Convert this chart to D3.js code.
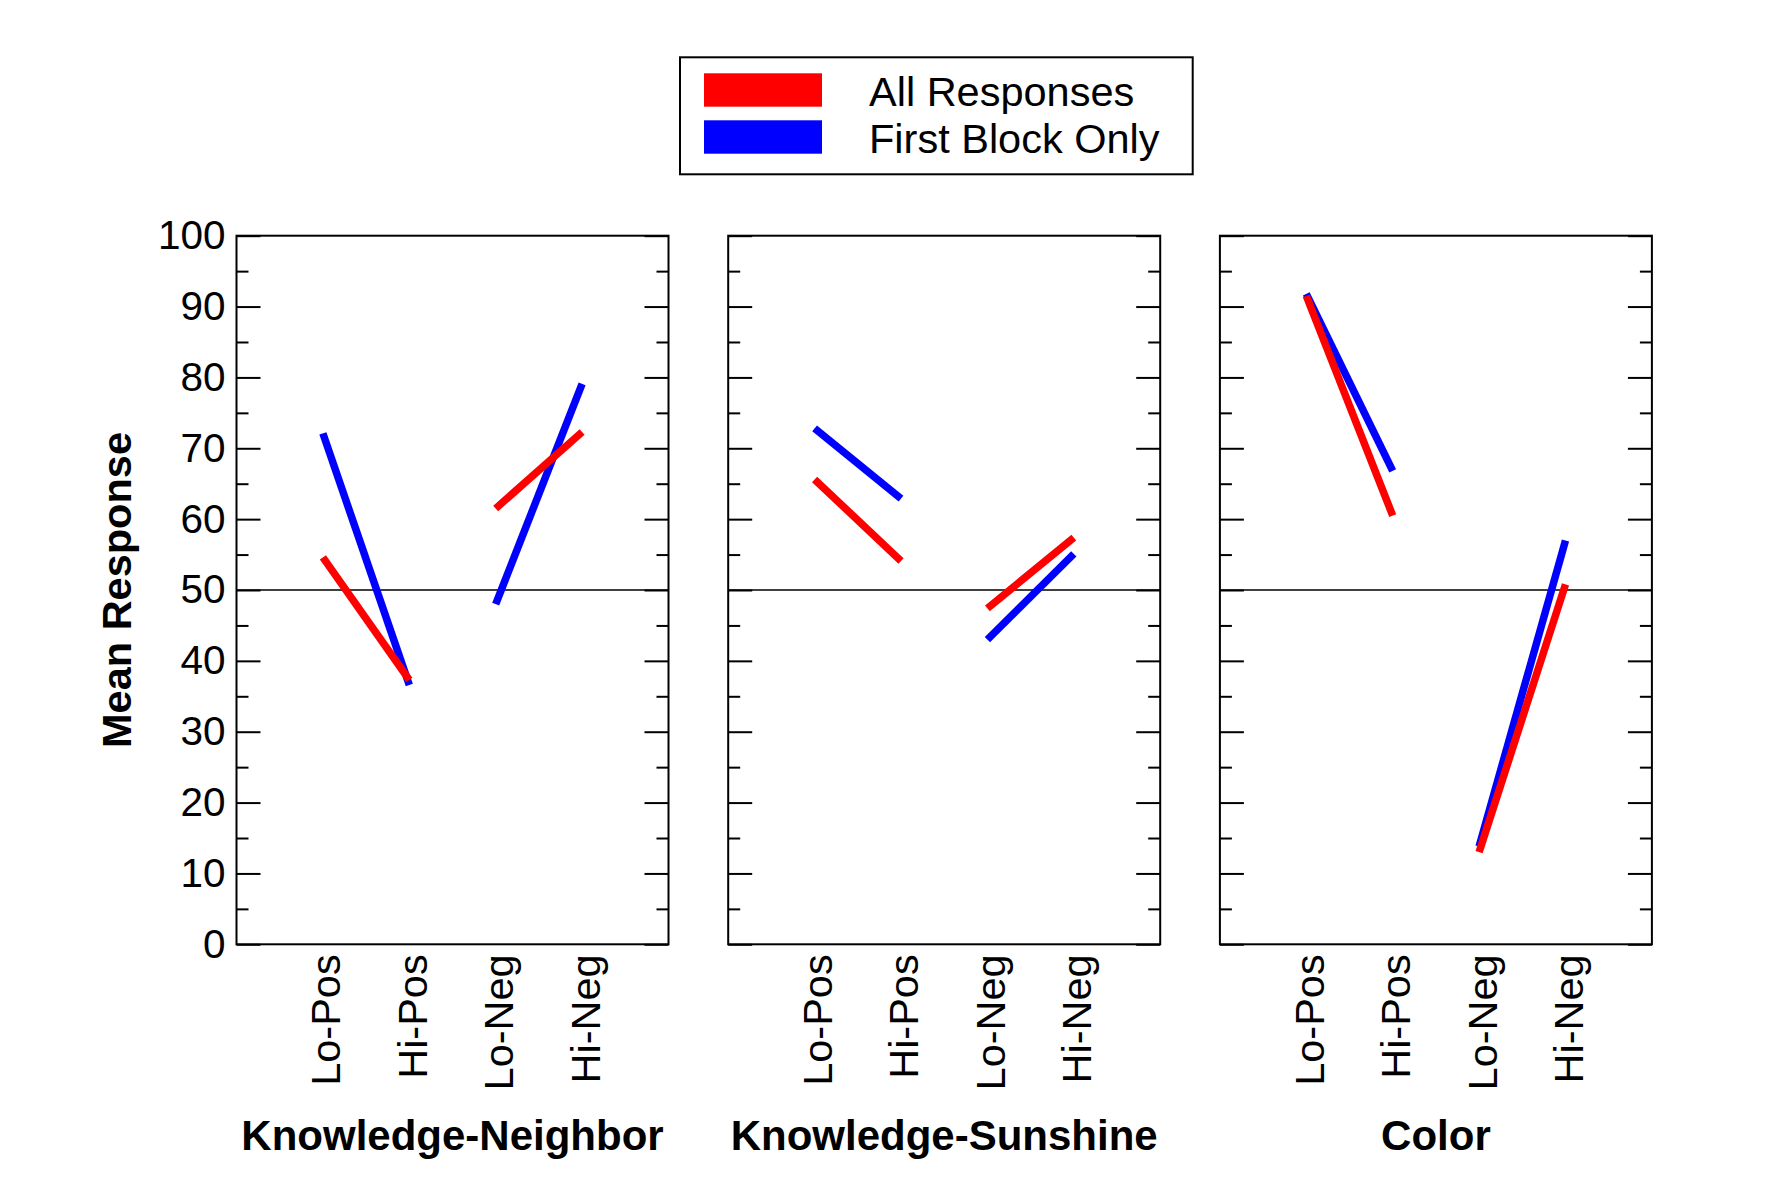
<!DOCTYPE html>
<html>
<head>
<meta charset="utf-8">
<script src="https://cdn.jsdelivr.net/npm/d3@7"></script>
<style>
  body { margin: 0; background: #fff; }
  svg { font-family: Arial, "Liberation Sans", sans-serif; }
</style>
</head>
<body>
<script>
// categories and values
var categories = ["Lo-Pos", "Hi-Pos", "Lo-Neg", "Hi-Neg"];
var panelNames = ["Knowledge-Neighbor", "Knowledge-Sunshine", "Color"];
var seriesNames = ["All Responses", "First Block Only"];
var seriesColors = ["#ff0000", "#0000ff"];

var allResponses = [
	[54.6, 37.3, 61.5, 72.3],
	[65.6, 54.1, 47.4, 57.4],
	[91.5, 60.5, 13.0, 50.8]
];
var firstBlock = [
	[72.1, 36.6, 48.0, 79.1],
	[72.8, 62.9, 43.0, 55.1],
	[91.8, 66.8, 13.8, 57.0]
];
var majorTicks = [0, 10, 20, 30, 40, 50, 60, 70, 80, 90, 100];
var minorTicks = [5, 15, 25, 35, 45, 55, 65, 75, 85, 95];
var refLine = 50;

var width = 1771;
var height = 1181;

var panelLeft = 236.5;
var panelStep = 491.7;
var panelW = 432;
var plotTop = 235.7;
var plotBottom = 944.3;

var svg = d3.select("body")
		.append("svg")
		.attr("width", width)
		.attr("height", height);

var y = d3.scaleLinear()
		.domain([0, 100])
		.range([plotBottom, plotTop]);

var x = d3.scaleLinear()
		.domain([0, 5])
		.range([0, panelW]);

panelNames.forEach(function(name, p) {
	var g = svg.append("g")
		.attr("transform", "translate(" + (panelLeft + p * panelStep) + ",0)");

	// minor ticks, left and right
	g.append("g")
		.call(d3.axisLeft(y).tickValues(minorTicks).tickSize(-12).tickFormat(""))
		.call(function(a) { a.select(".domain").remove(); });
	g.append("g")
		.attr("transform", "translate(" + panelW + ",0)")
		.call(d3.axisRight(y).tickValues(minorTicks).tickSize(-12).tickFormat(""))
		.call(function(a) { a.select(".domain").remove(); });

	// major ticks
	var left = g.append("g")
		.call(d3.axisLeft(y).tickValues(majorTicks).tickSize(-24).tickPadding(11)
			.tickFormat(p == 0 ? d3.format("d") : ""));
	left.select(".domain").remove();
	left.selectAll("text")
		.attr("font-size", 40.5)
		.attr("font-family", "Arial, 'Liberation Sans', sans-serif")
		.attr("fill", "#000");

	g.append("g")
		.attr("transform", "translate(" + panelW + ",0)")
		.call(d3.axisRight(y).tickValues(majorTicks).tickSize(-24).tickFormat(""))
		.call(function(a) { a.select(".domain").remove(); });

	g.selectAll(".tick line")
		.attr("stroke", "#000")
		.attr("stroke-width", 2);

	// 50 reference line
	g.append("line")
		.attr("x1", 0)
		.attr("x2", panelW)
		.attr("y1", y(refLine))
		.attr("y2", y(refLine))
		.attr("stroke", "#000")
		.attr("stroke-width", 1.6);

	// data segments: Pos pair and Neg pair
	var series = [firstBlock[p], allResponses[p]];
	var cols = [seriesColors[1], seriesColors[0]];
	series.forEach(function(vals, s) {
		[[0, 1], [2, 3]].forEach(function(pair) {
			g.append("line")
				.attr("x1", x(pair[0] + 1))
				.attr("y1", y(vals[pair[0]]))
				.attr("x2", x(pair[1] + 1))
				.attr("y2", y(vals[pair[1]]))
				.attr("stroke", cols[s])
				.attr("stroke-width", 7.5);
		});
	});

	// frame
	g.append("rect")
		.attr("x", 0)
		.attr("y", plotTop)
		.attr("width", panelW)
		.attr("height", plotBottom - plotTop)
		.attr("fill", "none")
		.attr("stroke", "#000")
		.attr("stroke-width", 2);

	// category labels
	g.selectAll(".cat")
		.data(categories)
		.enter()
		.append("text")
		.attr("class", "cat")
		.attr("transform", function(d, i) {
			return "translate(" + x(i + 1) + "," + (plotBottom + 10) + ") rotate(-90)";
		})
		.attr("text-anchor", "end")
		.attr("dy", "0.42em")
		.attr("font-size", 41.5)
		.text(function(d) { return d; });

	// panel title
	g.append("text")
		.attr("x", panelW / 2)
		.attr("y", 1150)
		.attr("text-anchor", "middle")
		.attr("font-size", 42)
		.attr("font-weight", "bold")
		.text(name);
});

// y axis title
svg.append("text")
	.attr("transform", "translate(131," + y(50) + ") rotate(-90)")
	.attr("text-anchor", "middle")
	.attr("font-size", 41.5)
	.attr("font-weight", "bold")
	.text("Mean Response");

// legend
var legend = svg.append("g");
legend.append("rect")
	.attr("x", 680)
	.attr("y", 57.3)
	.attr("width", 512.7)
	.attr("height", 117)
	.attr("fill", "#fff")
	.attr("stroke", "#000")
	.attr("stroke-width", 2);

seriesNames.forEach(function(name, i) {
	legend.append("rect")
		.attr("x", 704)
		.attr("y", 73.3 + i * 47)
		.attr("width", 118)
		.attr("height", 33.4)
		.attr("fill", seriesColors[i]);
	legend.append("text")
		.attr("x", 869)
		.attr("y", 106 + i * 46.7)
		.attr("font-size", 41.5)
		.text(name);
});
</script>
</body>
</html>
